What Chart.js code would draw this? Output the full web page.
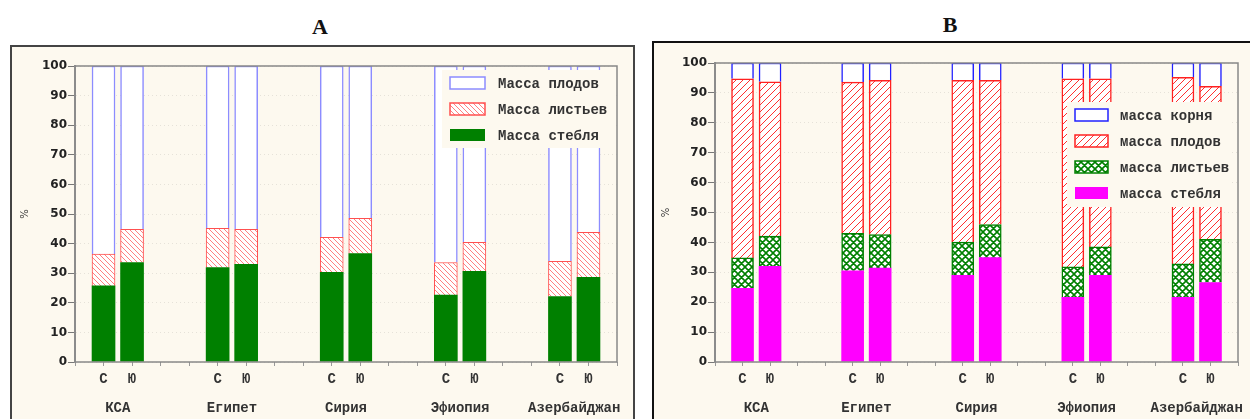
<!DOCTYPE html>
<html>
<head>
<meta charset="utf-8">
<script src="https://cdn.jsdelivr.net/npm/chart.js@4.4.1/dist/chart.umd.min.js"></script>
<style>
body{margin:0;background:#fff;width:1250px;height:419px;overflow:hidden;position:relative;font-family:"Liberation Mono",monospace}
.ttl{position:absolute;font:bold 22px "Liberation Serif",serif;color:#111;width:60px;text-align:center}
.panel{position:absolute;background:#fdf9ef}
#pa{left:10px;top:45px;width:621px;height:380px;border:2px solid #444}
#pb{left:652px;top:41px;width:620px;height:385px;border:2px solid #111}
canvas{position:absolute;left:0;top:0}
</style>
</head>
<body>
<div class="ttl" style="left:290px;top:14px">A</div>
<div class="ttl" style="left:920px;top:12px">B</div>
<div class="panel" id="pa"><canvas id="chartA" width="621" height="372"></canvas></div>
<div class="panel" id="pb"><canvas id="chartB" width="596" height="376"></canvas></div>
<script>
// data (%)
var countries = ['КСА','Египет','Сирия','Эфиопия','Азербайджан']
var sides = ['С','Ю']
var yTicks = [0,10,20,30,40,50,60,70,80,90,100]

// A: С,Ю for each country
var stemA = [25.7,33.6,31.9,33.0,30.3,36.6,22.6,30.6,22.1,28.6]
var leavesA = [10.8,11.2,13.3,11.8,11.8,11.9,11.0,9.8,11.9,15.2]
var fruitsA = [63.5,55.2,54.8,55.2,57.9,51.5,66.4,59.6,66.0,56.2]

// B
var stemB = [24.6,32.0,30.5,31.4,29.0,34.9,21.6,29.0,21.6,26.6]
var leavesB = [10.2,10.1,12.5,11.2,11.1,11.1,10.2,9.5,11.2,14.4]
var fruitsB = [59.9,51.6,50.6,51.6,54.1,48.2,62.9,56.2,62.4,51.2]
var rootsB = [5.3,6.3,6.4,5.8,5.8,5.8,5.3,5.3,4.8,7.8]

var nSlots = 20
function slotOf(i){ return 1 + 4*Math.floor(i/2) + (i%2) }
function toSlots(vals){
    var out = new Array(nSlots).fill(null)
    vals.forEach(function(v,i){ out[slotOf(i)] = v })
    return out
}
var slotLabels = new Array(nSlots).fill('')
for(var i=0;i<countries.length*2;i++){ slotLabels[slotOf(i)] = sides[i%2] }

function hatch(color, size, lw, dirs){
    var c = document.createElement('canvas')
    c.width = size; c.height = size
    var g = c.getContext('2d')
    g.fillStyle = '#fff'; g.fillRect(0,0,size,size)
    g.strokeStyle = color; g.lineWidth = lw
    g.beginPath()
    if(dirs.indexOf('/')>=0){
        g.moveTo(-1,size+1); g.lineTo(size+1,-1)
        g.moveTo(-1,1); g.lineTo(1,-1)
        g.moveTo(size-1,size+1); g.lineTo(size+1,size-1)
    }
    if(dirs.indexOf('\\')>=0){
        g.moveTo(-1,-1); g.lineTo(size+1,size+1)
        g.moveTo(size-1,-1); g.lineTo(size+1,1)
        g.moveTo(-1,size-1); g.lineTo(1,size+1)
    }
    g.stroke()
    return g.createPattern(c,'repeat')
}

var frame = {
    id:'frame',
    afterDraw: function(chart){
        var a = chart.chartArea, ctx = chart.ctx
        ctx.save()
        ctx.strokeStyle = '#888'; ctx.lineWidth = 1.5
        ctx.strokeRect(a.left, a.top, a.right-a.left, a.bottom-a.top)
        ctx.restore()
    }
}

function boxLegend(bx, by, bw, bh, tx, sw, order){
    return {
        id:'boxLegend',
        afterDraw: function(chart){
            var ctx = chart.ctx
            ctx.save()
            ctx.fillStyle = '#fdf9ef'
            ctx.fillRect(bx,by,bw,bh)
            ctx.font = 'bold 14px "Liberation Mono"'
            ctx.textBaseline = 'middle'
            order.forEach(function(di,k){
                var ds = chart.data.datasets[di]
                var y = by + 13 + k*26
                ctx.fillStyle = ds.backgroundColor
                ctx.fillRect(bx+8, y-6, sw, 12)
                if(ds.borderWidth){
                    ctx.strokeStyle = ds.borderColor; ctx.lineWidth = 1.5
                    ctx.strokeRect(bx+8, y-6, sw, 12)
                }
                ctx.fillStyle = '#333'
                ctx.fillText(ds.label, bx+tx, y+1)
            })
            ctx.restore()
        }
    }
}

function scales(yw, titlePad){
    return {
        x: {
            stacked:true, offset:false, weight:0,
            grid:{offset:false, drawOnChartArea:false, tickLength:4, color:'#999'},
            border:{display:false},
            ticks:{autoSkip:false, maxRotation:0, padding:5, color:'#333', font:{family:'Liberation Mono', size:14, weight:'bold'}},
            afterFit: function(s){ s.height = 30 }
        },
        x2: {
            type:'linear', axis:'x', position:'bottom', weight:1, min:0, max:nSlots-1, offset:false,
            grid:{display:false, offset:false}, border:{display:false},
            afterBuildTicks: function(s){ s.ticks = countries.map(function(c,i){ return {value:1.5+4*i} }) },
            ticks:{padding:0, color:'#333', font:{family:'Liberation Mono', size:14, weight:'bold'}, callback:function(v,i){ return countries[i] }},
            afterFit: function(s){ s.height = 27 }
        },
        y: {
            stacked:true, min:0, max:100,
            afterBuildTicks: function(s){ s.ticks = yTicks.map(function(v){ return {value:v} }) },
            grid:{color:'rgba(0,0,0,0.09)', tickColor:'#777', tickLength:7},
            border:{color:'#999', width:2, dash:[1,3]},
            ticks:{padding:1, color:'#222', font:{family:'DejaVu Sans', size:12, weight:'bold'}},
            title:{display:true, text:'%', color:'#333', font:{family:'DejaVu Sans', size:10}, padding:{top:titlePad, bottom:0}},
            afterFit: function(s){ s.width = yw }
        }
    }
}

var patA = hatch('#ff8080', 5, 1, '\\')
new Chart(document.getElementById('chartA'), {
    type:'bar',
    data:{
        labels: slotLabels,
        datasets:[
            {label:'Масса стебля', data:toSlots(stemA), backgroundColor:'#008000', borderWidth:0, barThickness:23},
            {label:'Масса листьев', data:toSlots(leavesA), backgroundColor:patA, borderColor:'#ff5050', borderWidth:1, barThickness:23},
            {label:'Масса плодов', data:toSlots(fruitsA), backgroundColor:'#fff', borderColor:'#8c8cff', borderWidth:1.5, barThickness:23}
        ]
    },
    options:{
        responsive:false, animation:false, devicePixelRatio:1,
        layout:{padding:{top:19, right:16, left:0, bottom:0}},
        plugins:{legend:{display:false}, tooltip:{enabled:false}},
        scales: scales(63, 7)
    },
    plugins:[frame, boxLegend(430, 23, 171, 78, 56, 35, [2,1,0])]
})

var patB = hatch('#ff3030', 7, 1, '/')
var crossB = hatch('#008000', 7, 1.6, '/\\')
new Chart(document.getElementById('chartB'), {
    type:'bar',
    data:{
        labels: slotLabels,
        datasets:[
            {label:'масса стебля', data:toSlots(stemB), backgroundColor:'#ff00ff', borderWidth:0, barThickness:22},
            {label:'масса листьев', data:toSlots(leavesB), backgroundColor:crossB, borderColor:'#008000', borderWidth:1.5, barThickness:22},
            {label:'масса плодов', data:toSlots(fruitsB), backgroundColor:patB, borderColor:'#ff2020', borderWidth:1.5, barThickness:22},
            {label:'масса корня', data:toSlots(rootsB), backgroundColor:'#fff', borderColor:'#2020ff', borderWidth:1.5, barThickness:22}
        ]
    },
    options:{
        responsive:false, animation:false, devicePixelRatio:1,
        layout:{padding:{top:20, right:12, left:0, bottom:0}},
        plugins:{legend:{display:false}, tooltip:{enabled:false}},
        scales: scales(61, 6)
    },
    plugins:[frame, boxLegend(413, 59, 165, 105, 53, 33, [3,2,1,0])]
})
</script>
</body>
</html>
